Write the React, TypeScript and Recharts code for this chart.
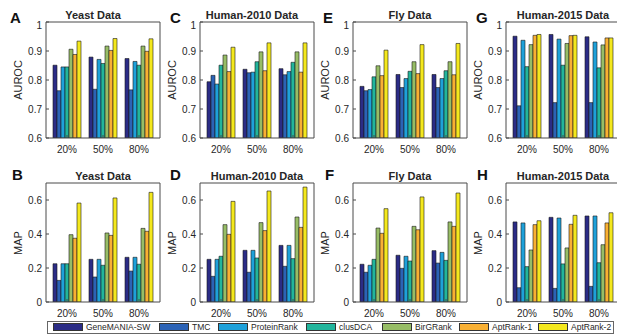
import { BarChart, Bar, XAxis, YAxis } from "recharts"

const splits = ["20%", "50%", "80%"]
const methods = ["GeneMANIA-SW", "TMC", "ProteinRank", "clusDCA", "BirGRank", "AptRank-1", "AptRank-2"]
const colors = ["#2b2c86", "#2c63b6", "#1ea1da", "#22b59c", "#97bd66", "#f9b033", "#f4e81d"]

// rows = training split, columns = method (same order as `methods`)
const yeastAuroc = [
  [0.851, 0.763, 0.845, 0.845, 0.906, 0.888, 0.934],
  [0.879, 0.768, 0.871, 0.857, 0.917, 0.902, 0.943],
  [0.874, 0.766, 0.864, 0.851, 0.917, 0.899, 0.942],
]
const human2010Auroc = [
  [0.794, 0.816, 0.786, 0.851, 0.886, 0.829, 0.913],
  [0.837, 0.825, 0.827, 0.863, 0.897, 0.832, 0.928],
  [0.839, 0.818, 0.829, 0.861, 0.897, 0.827, 0.928],
]
const flyAuroc = [
  [0.778, 0.763, 0.767, 0.811, 0.849, 0.815, 0.903],
  [0.819, 0.774, 0.805, 0.830, 0.863, 0.822, 0.922],
  [0.819, 0.774, 0.805, 0.832, 0.863, 0.818, 0.926],
]
const human2015Auroc = [
  [0.951, 0.711, 0.937, 0.846, 0.922, 0.954, 0.957],
  [0.957, 0.722, 0.941, 0.851, 0.926, 0.953, 0.954],
  [0.949, 0.722, 0.931, 0.842, 0.921, 0.945, 0.945],
]
const yeastMap = [
  [0.225, 0.127, 0.225, 0.225, 0.396, 0.375, 0.582],
  [0.251, 0.147, 0.251, 0.216, 0.406, 0.392, 0.612],
  [0.263, 0.182, 0.263, 0.222, 0.433, 0.416, 0.645],
]
const human2010Map = [
  [0.251, 0.151, 0.251, 0.269, 0.455, 0.398, 0.592],
  [0.304, 0.175, 0.304, 0.259, 0.467, 0.420, 0.653],
  [0.333, 0.210, 0.333, 0.255, 0.500, 0.439, 0.676],
]
const flyMap = [
  [0.222, 0.175, 0.216, 0.251, 0.435, 0.404, 0.549],
  [0.275, 0.198, 0.269, 0.241, 0.445, 0.425, 0.618],
  [0.302, 0.229, 0.292, 0.245, 0.471, 0.445, 0.641],
]
const human2015Map = [
  [0.471, 0.084, 0.465, 0.208, 0.306, 0.455, 0.478],
  [0.498, 0.080, 0.494, 0.224, 0.318, 0.457, 0.510],
  [0.506, 0.092, 0.506, 0.231, 0.337, 0.465, 0.525],
]

const aurocTicks = [0.6, 0.7, 0.8, 0.9, 1]
const mapTicks = [0, 0.2, 0.4, 0.6]

const font = "'Liberation Sans', Arial, Helvetica, sans-serif"
const ink = "#262626"
const axisColor = "#4a4a4a"

const colLeft = [46, 200, 353, 506]
const plotW = 114
const rowTop = [22, 183]
const plotH = [116, 119]

const panels = [
  { letter: "A", title: "Yeast Data", values: yeastAuroc, col: 0, row: 0, titleX: 93, letterX: 10 },
  { letter: "C", title: "Human-2010 Data", values: human2010Auroc, col: 1, row: 0, titleX: 252, letterX: 170 },
  { letter: "E", title: "Fly Data", values: flyAuroc, col: 2, row: 0, titleX: 410, letterX: 323 },
  { letter: "G", title: "Human-2015 Data", values: human2015Auroc, col: 3, row: 0, titleX: 563, letterX: 476 },
  { letter: "B", title: "Yeast Data", values: yeastMap, col: 0, row: 1, titleX: 103, letterX: 12 },
  { letter: "D", title: "Human-2010 Data", values: human2010Map, col: 1, row: 1, titleX: 257, letterX: 170 },
  { letter: "F", title: "Fly Data", values: flyMap, col: 2, row: 1, titleX: 410, letterX: 325 },
  { letter: "H", title: "Human-2015 Data", values: human2015Map, col: 3, row: 1, titleX: 563, letterX: 477 },
]

// legend swatch left edges
const legendX = [53, 159, 218, 306, 382, 459, 538]

function toRows(values: number[][]) {
  return splits.map((s, i) => {
    const row: Record<string, string | number> = { split: s }
    methods.forEach((m, j) => { row[m] = values[i][j] })
    return row
  })
}

function Panel({ p }: { p: typeof panels[number] }) {
  const h = plotH[p.row]
  const isAuroc = p.row === 0
  const ticks = isAuroc ? aurocTicks : mapTicks
  const domain = isAuroc ? [0.6, 1] : [0, 0.7]
  const left = colLeft[p.col]
  const top = rowTop[p.row]
  const tickStyle = { fontSize: 10, fill: ink, fontFamily: font }
  return (
    <>
      <div style={{ position: "absolute", left: left - 46, top: top - 2 }}>
        <BarChart
          width={46 + plotW + 2}
          height={2 + h + 20}
          data={toRows(p.values)}
          margin={{ top: 1, right: 1, bottom: 0, left: 0 }}
          barCategoryGap={4}
          barGap={0}
        >
          <XAxis dataKey="split" height={20} padding={{ left: 3, right: 3 }} tick={tickStyle}
            tickSize={-3} tickMargin={11} stroke={axisColor} />
          <XAxis xAxisId="top" orientation="top" dataKey="split" height={1} padding={{ left: 3, right: 3 }}
            tick={false} tickSize={-3} stroke={axisColor} />
          <YAxis type="number" domain={domain} ticks={ticks} width={46} tick={tickStyle}
            tickSize={-3} tickMargin={7} stroke={axisColor} allowDataOverflow />
          <YAxis yAxisId="right" orientation="right" type="number" domain={domain} ticks={ticks} width={1}
            tick={false} tickSize={-3} stroke={axisColor} allowDataOverflow />
          {methods.map((m, i) => (
            <Bar key={m} dataKey={m} fill={colors[i]} stroke="#1a1a1a" strokeWidth={0.6} isAnimationActive={false} />
          ))}
        </BarChart>
      </div>
      <div style={{ position: "absolute", left: p.titleX, top: p.row === 0 ? 15 : 176, transform: "translate(-50%, -50%)",
        fontFamily: font, fontSize: 11, fontWeight: "bold", color: ink, whiteSpace: "nowrap", lineHeight: 1 }}>
        {p.title}
      </div>
      <div style={{ position: "absolute", left: p.letterX, top: p.row === 0 ? 16.5 : 173.5, transform: "translateY(-50%)",
        fontFamily: font, fontSize: 15, fontWeight: "bold", color: "#111", lineHeight: 1 }}>
        {p.letter}
      </div>
      <div style={{ position: "absolute", left: left - 28, top: top + h / 2, transform: "translate(-50%, -50%) rotate(-90deg)",
        fontFamily: font, fontSize: 11, color: ink, whiteSpace: "nowrap", lineHeight: 1 }}>
        {isAuroc ? "AUROC" : "MAP"}
      </div>
    </>
  )
}

export default function App() {
  return (
    <div style={{ position: "absolute", left: 0, top: 0, width: 617, height: 335, overflow: "hidden", background: "#fff" }}>
      {panels.map((p) => <Panel key={p.letter} p={p} />)}
      <div style={{ position: "absolute", left: 47, top: 321, width: 567, height: 13, border: "1px solid #666", boxSizing: "border-box" }} />
      {methods.map((m, i) => (
        <div key={m} style={{ position: "absolute", left: legendX[i], top: 323, display: "flex", alignItems: "center", height: 8 }}>
          <div style={{ width: 28, height: 6, background: colors[i], border: "1px solid #333" }} />
          <span style={{ marginLeft: 3, fontFamily: font, fontSize: 8.5, color: ink, whiteSpace: "nowrap", lineHeight: 1 }}>{m}</span>
        </div>
      ))}
    </div>
  )
}
